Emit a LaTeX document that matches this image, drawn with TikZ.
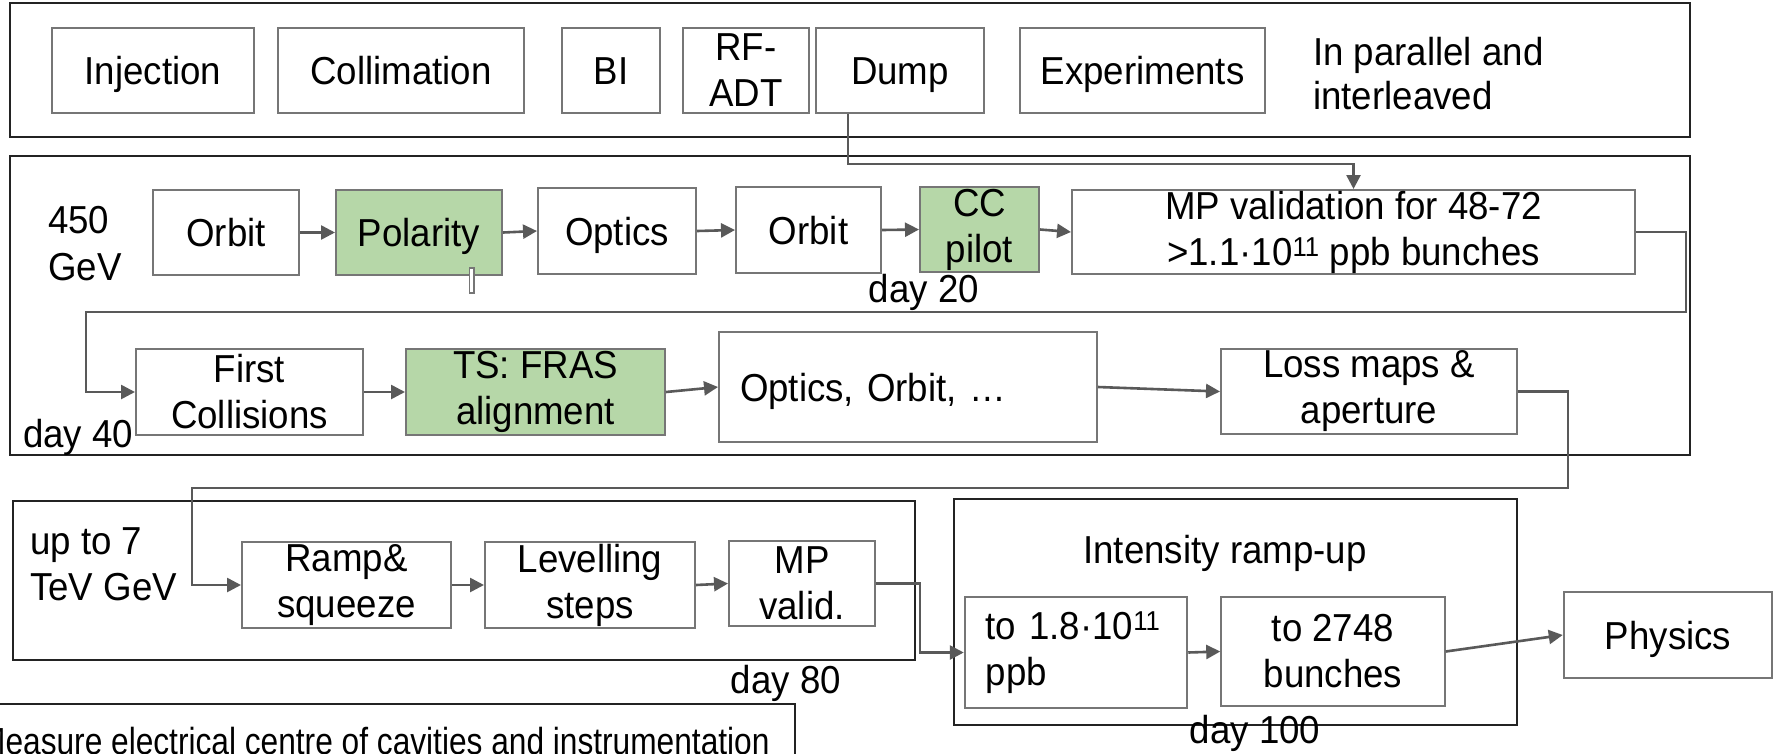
\documentclass[tikz,border=0pt]{standalone}
\usepackage{fontspec}
\setmainfont{Liberation Sans}[FakeStretch=0.94]
\newfontfamily\narrowsans{Liberation Sans}[FakeStretch=0.84]
\usetikzlibrary{arrows.meta, positioning}
\definecolor{boxgray}{RGB}{118,118,118}
\definecolor{framegray}{RGB}{35,35,35}
\definecolor{arrgray}{RGB}{89,89,89}
\definecolor{boxgreen}{RGB}{182,215,168}
\tikzstyle{box}=[draw=boxgray, line width=2pt, inner sep=0pt, align=center, minimum height=85pt]
\tikzstyle{sbox}=[box, text height=28pt, text depth=0pt]
\tikzstyle{gbox}=[box, fill=boxgreen]
\tikzstyle{frame}=[draw=framegray, line width=2.5pt]
\tikzstyle{arr}=[draw=arrgray, line width=2.6pt, -{Triangle[length=14pt,width=14pt]}]
\tikzstyle{txt}=[inner sep=0pt, align=left]

\begin{document}
\begin{tikzpicture}[x=1pt, y=-1pt, font=\fontsize{39}{46}\selectfont]
    \useasboundingbox (0,0) rectangle (1775,753);
    \fill[white] (0,0) rectangle (1775,753);

    % frames
    \draw[frame] (10,3) rectangle (1690,137);
    \draw[frame] (10,156) rectangle (1690,455);
    \draw[frame] (13,501) rectangle (915,660);
    \draw[frame] (954,499) rectangle (1517,725);
    \draw[frame] (-10,704) rectangle (795,770);

    % in parallel
    \node [sbox, minimum width=202pt](inj) at (153,70.5) {Injection};
    \node [sbox, minimum width=246pt](coll) at (401,70.5) {Collimation};
    \node [sbox, minimum width=98pt](bi) at (611,70.5) {BI};
    \node [box, minimum width=126pt](rfadt) at (746,70.5) {RF-\\ADT};
    \node [sbox, minimum width=168pt](dump) at (900,70.5) {Dump};
    \node [sbox, minimum width=245pt](expts) at (1142.5,70.5) {Experiments};
    \node [txt, anchor=west, font=\fontsize{39}{44}\selectfont](par) at (1313,74) {In parallel and\\interleaved};

    % 450 GeV
    \node [txt, anchor=west, font=\fontsize{39}{47}\selectfont](inj450) at (48,244) {450\\GeV};
    \node [sbox, minimum width=146pt](orb1) at (226,232.5) {Orbit};
    \node [gbox, sbox, minimum width=166pt](pol) at (419,232.5) {Polarity};
    \node [sbox, minimum width=158pt, minimum height=86pt](opt) at (617,231) {Optics};
    \node [sbox, minimum width=145pt, minimum height=86pt](orb2) at (808.5,230) {Orbit};
    \node [gbox, minimum width=119pt](cc) at (979.5,229.5) {CC\\pilot};
    \node [box, minimum width=563pt, minimum height=84pt](mpval) at (1353.5,232) {MP validation for 48-72\\>1.1·10\textsuperscript{11} ppb bunches};
    \node [txt](day20) at (924,292) {day 20};
    \draw[draw=boxgray, line width=1.5pt, fill=white] (469.5,268) rectangle (474,293);

    \node [box, minimum width=227pt, minimum height=86pt](first) at (249.5,392) {First\\Collisions};
    \node [gbox, minimum width=259pt, minimum height=86pt](fras) at (535.5,392) {TS: FRAS\\alignment};
    \node [sbox, minimum width=378pt, minimum height=110pt, text width=336pt, align=left](optorb) at (908,387) {Optics, Orbit, …};
    \node [box, minimum width=296pt](loss) at (1369,391.5) {Loss maps \&\\aperture};
    \node [txt, anchor=west](day40) at (23,437) {day 40};

    % ramp
    \node [txt, anchor=west](top7) at (30,564) {up to 7\\TeV GeV};
    \node [box, minimum width=209pt, minimum height=86pt](ramp) at (346.5,585) {Ramp\&\\squeeze};
    \node [box, minimum width=210pt, minimum height=86pt](lev) at (590,585) {Levelling\\steps};
    \node [box, minimum width=146pt](mpv) at (802,583.5) {MP\\valid.};
    \node [txt](day80) at (786,683) {day 80};

    % intensity
    \node [txt](iru) at (1225,553) {Intensity ramp-up};
    \node [box, minimum width=222.5pt, minimum height=111pt, text width=180.5pt, align=left](ppb) at (1076,652.5) {to 1.8·10\textsuperscript{11}\\ppb};
    \node [box, minimum width=223.5pt, minimum height=109pt](nb) at (1333,651.5) {to 2748\\bunches};
    \node [sbox, minimum width=208.5pt, minimum height=86pt](phys) at (1668,635) {Physics};
    \node [txt](day100) at (1255,733) {day 100};

    \node [txt, anchor=base west, font=\narrowsans\fontsize{37.7}{44}\selectfont](meas) at (-21,754) {Measure electrical centre of cavities and instrumentation};

    % connectors
    \draw[arr] ([xshift=-52pt]dump.south) -- ++(0,50) -| (mpval.north);
    \draw[arr] (orb1.east) -- (pol.west);
    \draw[arr] (pol.east) -- (opt.west);
    \draw[arr] (opt.east) -- (orb2.west);
    \draw[arr] (orb2.east) -- (cc.west);
    \draw[arr] (cc.east) -- (mpval.west);
    \draw[arr] (mpval.east) -- ++(50,0) |- (86,312) |- (first.west);
    \draw[arr] (first.east) -- (fras.west);
    \draw[arr] (fras.east) -- (optorb.west);
    \draw[arr] (optorb.east) -- (loss.west);
    \draw[arr] (loss.east) -- ++(50,0) |- (192,488) |- (ramp.west);
    \draw[arr] (ramp.east) -- (lev.west);
    \draw[arr] (lev.east) -- (mpv.west);
    \draw[arr] (mpv.east) -- ++(44,0) |- (ppb.west);
    \draw[arr] (ppb.east) -- (nb.west);
    \draw[arr] (nb.east) -- (phys.west);
\end{tikzpicture}
\end{document}
